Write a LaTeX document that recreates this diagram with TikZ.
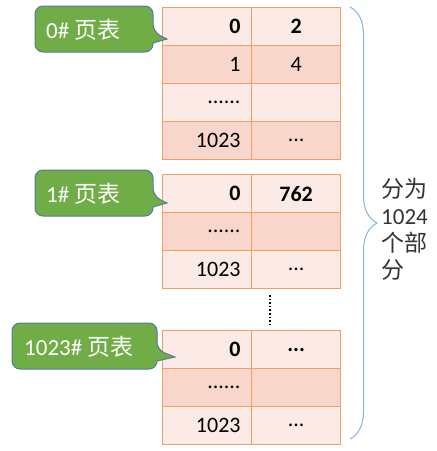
\documentclass[tikz,border=0pt]{standalone}
\usepackage{fontspec}
\setmainfont{Carlito}
\newfontfamily\cjk{Noto Sans CJK SC}
\usetikzlibrary{decorations.pathreplacing}
\definecolor{rowlight}{RGB}{251,234,229}
\definecolor{rowdark}{RGB}{248,214,203}
\definecolor{cellline}{RGB}{243,158,98}
\definecolor{tagfill}{RGB}{112,173,71}
\definecolor{tagline}{RGB}{84,122,160}
\definecolor{bracecol}{RGB}{140,178,222}
\tikzset{
    % left column of a page table, numbers to the right
    lcell/.style={
        draw=cellline, line width=1.2pt, anchor=north west,
        minimum height=38pt, inner xsep=11pt, inner ysep=0pt,
        text width=67pt, align=right,
        font=\fontsize{22}{26}\selectfont
    },
    rcell/.style={
        draw=cellline, line width=1.2pt, anchor=north west,
        minimum width=89pt, minimum height=38pt, inner sep=0pt,
        font=\fontsize{22}{26}\selectfont
    },
    tag/.style={draw=tagline, fill=tagfill, line width=1pt},
    tagtext/.style={anchor=west, inner sep=0pt, text=white,
        font=\fontsize{23}{26}\selectfont}
}

\begin{document}
\begin{tikzpicture}[x=1pt,y=-1pt]
    \useasboundingbox (0,0) rectangle (437,451);

    % table 0
    \node[lcell,fill=rowlight] (a01) at (162,7) {\textbf{0}};
    \node[rcell,fill=rowlight] (b01) at (251,7) {\textbf{2}};
    \node[lcell,fill=rowdark] (a02) at (162,45) {1};
    \node[rcell,fill=rowdark] (b02) at (251,45) {4};
    \node[lcell,fill=rowlight] (a03) at (162,83) {......};
    \node[rcell,fill=rowlight] (b03) at (251,83) {};
    \node[lcell,fill=rowdark] (a04) at (162,121) {1023};
    \node[rcell,fill=rowdark] (b04) at (251,121) {...};

    % table 1
    \node[lcell,fill=rowlight] (a11) at (162,174) {\textbf{0}};
    \node[rcell,fill=rowlight] (b11) at (251,174) {\textbf{762}};
    \node[lcell,fill=rowdark] (a12) at (162,212) {......};
    \node[rcell,fill=rowdark] (b12) at (251,212) {};
    \node[lcell,fill=rowlight] (a13) at (162,250) {1023};
    \node[rcell,fill=rowlight] (b13) at (251,250) {...};

    % table 1023
    \node[lcell,fill=rowlight] (a21) at (162,330) {\textbf{0}};
    \node[rcell,fill=rowlight] (b21) at (251,330) {\textbf{...}};
    \node[lcell,fill=rowdark] (a22) at (162,368) {......};
    \node[rcell,fill=rowdark] (b22) at (251,368) {};
    \node[lcell,fill=rowlight] (a23) at (162,406) {1023};
    \node[rcell,fill=rowlight] (b23) at (251,406) {...};

    \coordinate (d1) at (270,295);
    \coordinate (d2) at (270,325);
    \draw[line width=1.6pt, dotted] (d1) -- (d2);

    % callouts
    \coordinate (p0) at (167,39);
    \coordinate (p1) at (167,203);
    \coordinate (p2) at (175,357);
    \draw[tag] (35,29) [rounded corners=8pt] -- (35,6) -- (153,6) -- (153,32)
        [sharp corners] -- (p0) -- (153,43) [rounded corners=8pt] -- (153,52) -- (35,52) -- cycle;
    \draw[tag] (35,193) [rounded corners=8pt] -- (35,170) -- (153,170) -- (153,196)
        [sharp corners] -- (p1) -- (153,207) [rounded corners=8pt] -- (153,216) -- (35,216) -- cycle;
    \draw[tag] (12,346) [rounded corners=8pt] -- (12,323) -- (157,323) -- (157,350)
        [sharp corners] -- (p2) -- (157,361) [rounded corners=8pt] -- (157,369) -- (12,369) -- cycle;
    \node[tagtext] (t0) at (46,30) {0\# {\cjk 页表}};
    \node[tagtext] (t1) at (46,194) {1\# {\cjk 页表}};
    \node[tagtext] (t2) at (24,347) {1023\# {\cjk 页表}};

    % brace
    \coordinate (br1) at (350,7);
    \coordinate (br2) at (350,439);
    \draw[bracecol, line width=1pt, decorate,
        decoration={brace, amplitude=27pt}] (br1) -- (br2);
    \node[anchor=west, align=left, text=black!80, inner sep=0pt,
        font=\fontsize{23}{27}\selectfont] (parts) at (381,229)
        {{\cjk 分为}\\1024\\{\cjk 个部}\\{\cjk 分}};
\end{tikzpicture}
\end{document}
